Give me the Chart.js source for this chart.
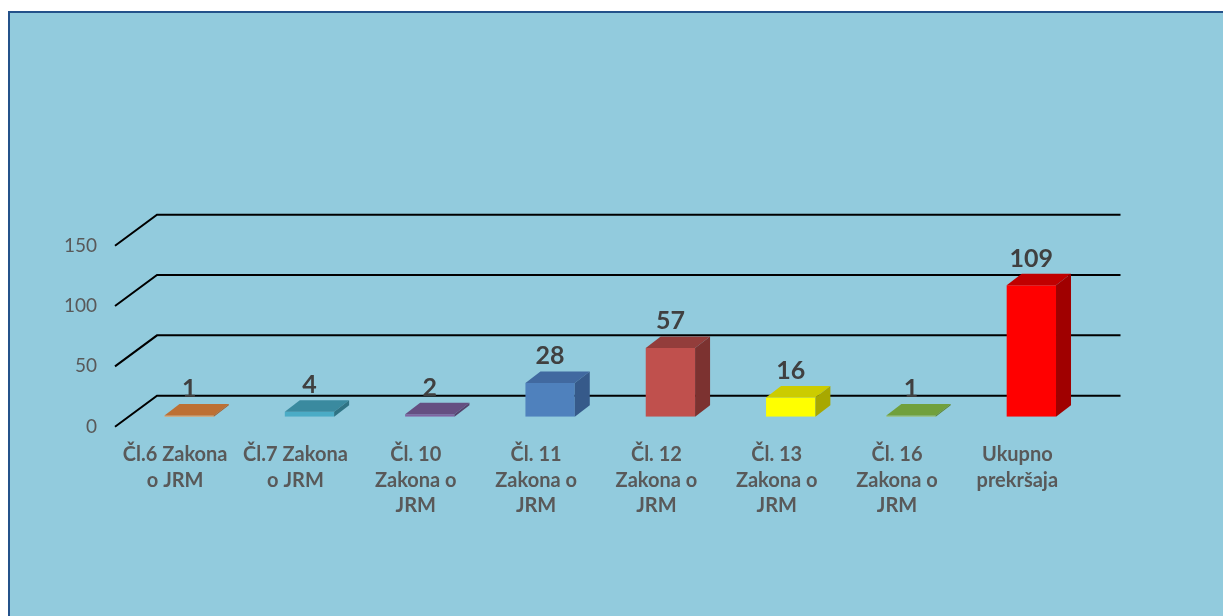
<!DOCTYPE html>
<html>
<head>
<meta charset="utf-8">
<script src="https://cdn.jsdelivr.net/npm/chart.js@4/dist/chart.umd.min.js"></script>
<style>
  html, body { margin: 0; padding: 0; background: #ffffff; overflow: hidden; }
  #box {
    position: absolute; left: 8px; top: 11px; width: 1400px; height: 800px;
    background: #92cbdd; border-left: 2px solid #24528a; border-top: 2px solid #24528a;
  }
  #grafico { position: absolute; left: 0; top: 0; }
</style>
</head>
<body>
<div id="box"></div>
<canvas id="grafico" width="1223" height="616"></canvas>
<script>
// categorias (rótulos em várias linhas)
var categorias = [
    ['Čl.6 Zakona', 'o JRM'],
    ['Čl.7 Zakona', 'o JRM'],
    ['Čl. 10', 'Zakona o', 'JRM'],
    ['Čl. 11', 'Zakona o', 'JRM'],
    ['Čl. 12', 'Zakona o', 'JRM'],
    ['Čl. 13', 'Zakona o', 'JRM'],
    ['Čl. 16', 'Zakona o', 'JRM'],
    ['Ukupno', 'prekršaja']
];
var valores = [1, 4, 2, 28, 57, 16, 1, 109];
var ticksY = [0, 50, 100, 150];

// cores: frente, topo, lado
var corFrente = ['#f79646', '#4bacc6', '#8064a2', '#4f81bd', '#c0504d', '#ffff00', '#9bbb59', '#ff0000'];
var corTopo   = ['#bd7034', '#3a8a9f', '#654f82', '#4169a0', '#933d3b', '#cccc00', '#71a03c', '#c00000'];
var corLado   = ['#a85f2a', '#2f7384', '#54426c', '#365a8a', '#7c3230', '#a8a800', '#5f8732', '#a00000'];

var prof = { x: 15, y: -11.5 };     // profundidade da barra
var desloc = { x: 14, y: -10 };     // barra para dentro do piso
var parede = { x: 42, y: -31 };     // parede do fundo

var efeito3d = {
    id: 'efeito3d',
    beforeDatasetsDraw: function (chart) {
        var ctx = chart.ctx, a = chart.chartArea, y = chart.scales.y;
        ctx.save();
        ctx.strokeStyle = '#000000';
        ctx.lineWidth = 2;
        ticksY.forEach(function (t) {
            var py = y.getPixelForValue(t);
            ctx.beginPath();
            ctx.moveTo(a.left, py);
            ctx.lineTo(a.left + parede.x, py + parede.y);
            ctx.lineTo(a.right + parede.x + 1, py + parede.y);
            ctx.stroke();
        });
        ctx.restore();
        ctx.save();
        ctx.translate(desloc.x, desloc.y);
    },
    afterDatasetsDraw: function (chart) {
        var ctx = chart.ctx;
        var meta = chart.getDatasetMeta(0);
        meta.data.forEach(function (bar, i) {
            var l = bar.x - bar.width / 2, r = bar.x + bar.width / 2;
            var t = bar.y, b = bar.base;
            // topo
            ctx.fillStyle = corTopo[i];
            ctx.beginPath();
            ctx.moveTo(l, t);
            ctx.lineTo(l + prof.x, t + prof.y);
            ctx.lineTo(r + prof.x, t + prof.y);
            ctx.lineTo(r, t);
            ctx.closePath();
            ctx.fill();
            // lado
            ctx.fillStyle = corLado[i];
            ctx.beginPath();
            ctx.moveTo(r, t);
            ctx.lineTo(r + prof.x, t + prof.y);
            ctx.lineTo(r + prof.x, b + prof.y);
            ctx.lineTo(r, b);
            ctx.closePath();
            ctx.fill();
        });
        ctx.fillStyle = '#404040';
        ctx.font = 'bold 25px Lato';
        ctx.textAlign = 'center';
        ctx.textBaseline = 'alphabetic';
        meta.data.forEach(function (bar, i) {
            ctx.fillText(String(valores[i]), bar.x, bar.y + prof.y - 7);
        });
        ctx.restore();
    }
};

var ctx = document.querySelector('#grafico').getContext('2d');
var barChart = new Chart(ctx, {
    type: 'bar',
    data: {
        labels: categorias,
        datasets: [{
            data: valores,
            backgroundColor: corFrente,
            borderWidth: 0,
            categoryPercentage: 1,
            barPercentage: 0.41
        }]
    },
    options: {
        responsive: false,
        animation: false,
        events: [],
        layout: { padding: { left: 0, top: 245.7, right: 145.5, bottom: 0 } },
        plugins: { legend: { display: false }, tooltip: { enabled: false } },
        scales: {
            x: {
                grid: { display: false, drawTicks: false },
                border: { display: false },
                ticks: {
                    color: '#595959',
                    font: { family: 'Lato', size: 20, weight: 'bold', lineHeight: 1.28 },
                    padding: 15,
                    maxRotation: 0,
                    autoSkip: false
                },
                afterFit: function (s) { s.height = 616 - 426.7; }
            },
            y: {
                min: 0,
                max: 150,
                grid: { display: false, drawTicks: false },
                border: { display: false },
                ticks: {
                    stepSize: 50,
                    color: '#595959',
                    font: { family: 'Lato', size: 19 },
                    padding: 18
                },
                afterFit: function (s) { s.width = 115; }
            }
        }
    },
    plugins: [efeito3d]
});
</script>
</body>
</html>
